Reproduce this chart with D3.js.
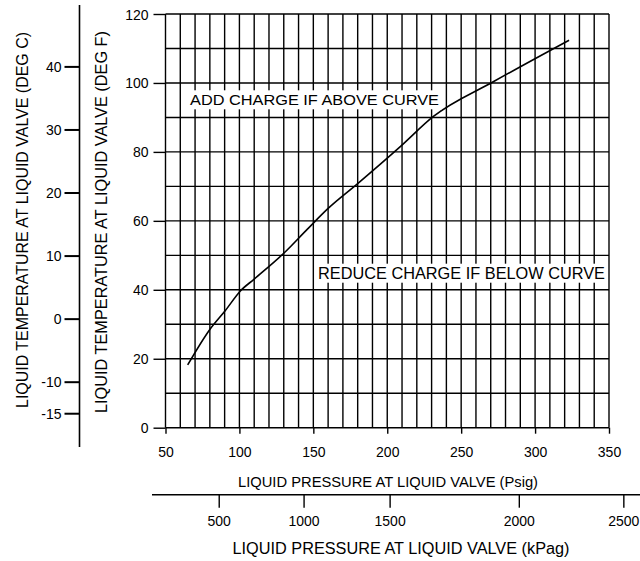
<!DOCTYPE html>
<html>
<head>
<meta charset="utf-8">
<script src="https://cdn.jsdelivr.net/npm/d3@7"></script>
<style>
  html, body { margin: 0; padding: 0; background: #fff; }
  svg { display: block; font-family: "Liberation Sans", Arial, Helvetica, sans-serif; }
</style>
</head>
<body>
<svg id="chart" width="640" height="561"></svg>
<script>
// ---- data ----
const curvePsig  = [65, 80, 90.5, 100.5, 110, 130, 146, 160, 180, 209, 231, 272, 323];
const curveTempF = [18.2, 28.5, 34.0, 39.6, 43.1, 50.6, 57.6, 63.6, 70.8, 81.6, 90.2, 100.4, 112.4];

const psigTicks  = [50, 100, 150, 200, 250, 300, 350];
const tempFTicks = [0, 20, 40, 60, 80, 100, 120];
const tempCTicks = [40, 30, 20, 10, 0, -10, -15];
const kpaTicks   = [500, 1000, 1500, 2000, 2500];
// where each kPa tick sits on the drawing, expressed in psig
const kpaAsPsig  = [86, 143.4, 201.6, 289, 359.7];
// where the two ends of the deg C scale sit on the drawing, expressed in deg F
const cCalibC = [-15, 40];
const cCalibF = [4.2, 104.8];

const labels = {
  yF: "LIQUID TEMPERATURE AT LIQUID VALVE (DEG F)",
  yC: "LIQUID TEMPERATURE AT LIQUID VALVE (DEG C)",
  xPsig: "LIQUID PRESSURE AT LIQUID VALVE (Psig)",
  xKpa: "LIQUID PRESSURE AT LIQUID VALVE (kPag)",
  above: "ADD CHARGE IF ABOVE CURVE",
  below: "REDUCE CHARGE IF BELOW CURVE"
};

// ---- scales ----
const svg = d3.select("#chart");
const x = d3.scaleLinear().domain([50, 350]).range([165.5, 609]);
const y = d3.scaleLinear().domain([0, 120]).range([427.7, 14]);
const yC = d3.scaleLinear().domain(cCalibC).range(cCalibF.map(y));
const xK = d3.scaleLinear().domain(kpaTicks).range(kpaAsPsig.map(x));

const ink = "#000";
const gridW = 1.4;

// ---- grid ----
const grid = svg.append("g").attr("stroke", ink).attr("stroke-width", gridW);
grid.selectAll("line.v").data(d3.range(50, 351, 10)).join("line")
  .attr("x1", d => x(d)).attr("x2", d => x(d))
  .attr("y1", y(120)).attr("y2", y(0));
grid.selectAll("line.h").data(d3.range(0, 121, 10)).join("line")
  .attr("y1", d => y(d)).attr("y2", d => y(d))
  .attr("x1", x(50)).attr("x2", x(350));

// ---- main axes ----
const xAxis = svg.append("g").attr("transform", `translate(0,${y(0)})`)
  .call(d3.axisBottom(x).tickValues(psigTicks).tickSize(6).tickPadding(13).tickSizeOuter(0).tickFormat(d => String(d)));
const yAxis = svg.append("g").attr("transform", `translate(${x(50)},0)`)
  .call(d3.axisLeft(y).tickValues(tempFTicks).tickSize(12).tickPadding(5).tickSizeOuter(0).tickFormat(d => String(d)));
[xAxis, yAxis].forEach(a => {
  a.select(".domain").remove();
  a.selectAll("line").attr("stroke", ink).attr("stroke-width", gridW);
  a.selectAll("text").attr("fill", ink).style("font-size", "14px").style("font-family", null);
});
yAxis.selectAll("text").attr("dy", "0.36em");

// ---- deg C axis ----
const cX = 79.5;
const cAxis = svg.append("g").attr("transform", `translate(${cX},0)`)
  .call(d3.axisLeft(yC).tickValues(tempCTicks).tickSize(15).tickPadding(3).tickSizeOuter(0).tickFormat(d => String(d)));
cAxis.select(".domain").remove();
cAxis.selectAll("line").attr("stroke", ink).attr("stroke-width", 2);
cAxis.selectAll("text").attr("fill", ink).style("font-size", "14px").style("font-family", null).attr("dy", "0.36em");
svg.append("line").attr("x1", cX).attr("x2", cX).attr("y1", 5).attr("y2", 447)
  .attr("stroke", ink).attr("stroke-width", 1.6);

// ---- kPa axis ----
const kY = 494.7;
const kAxis = svg.append("g").attr("transform", `translate(0,${kY})`)
  .call(d3.axisBottom(xK).tickValues(kpaTicks).tickSize(13).tickPadding(8).tickSizeOuter(0).tickFormat(d => String(d)));
kAxis.select(".domain").remove();
kAxis.selectAll("line").attr("stroke", ink).attr("stroke-width", 1.4);
kAxis.selectAll("text").attr("fill", ink).style("font-size", "14px").style("font-family", null);
svg.append("line").attr("x1", 152).attr("x2", 640).attr("y1", kY).attr("y2", kY)
  .attr("stroke", ink).attr("stroke-width", 1.4);

// ---- curve ----
const pts = curvePsig.map((p, i) => [p, curveTempF[i]]);
svg.append("path").datum(pts)
  .attr("fill", "none").attr("stroke", ink).attr("stroke-width", 1.6)
  .attr("stroke-linejoin", "round")
  .attr("d", d3.line().x(d => x(d[0])).y(d => y(d[1])).curve(d3.curveMonotoneX));

// ---- in-plot notes with white backgrounds ----
function note(text, x0, baseline, len, size) {
  const g = svg.append("g");
  const rect = g.append("rect").attr("fill", "#fff");
  const t = g.append("text").attr("x", x0).attr("y", baseline)
    .attr("fill", ink).style("font-size", size + "px")
    .attr("textLength", len).attr("lengthAdjust", "spacingAndGlyphs").text(text);
  const b = t.node().getBBox();
  rect.attr("x", b.x - 3).attr("y", b.y - 1).attr("width", b.width + 6).attr("height", b.height + 2);
}
note(labels.above, 190, 105.3, 249, 15.4);
note(labels.below, 318, 278.7, 287, 15.8);

// ---- axis titles ----
svg.append("text").attr("x", 388).attr("y", 487.3).attr("text-anchor", "middle")
  .attr("fill", ink).style("font-size", "14.5px")
  .attr("textLength", 300).attr("lengthAdjust", "spacingAndGlyphs").text(labels.xPsig);
svg.append("text").attr("x", 401).attr("y", 554.3).attr("text-anchor", "middle")
  .attr("fill", ink).style("font-size", "16px")
  .attr("textLength", 337).attr("lengthAdjust", "spacingAndGlyphs").text(labels.xKpa);
svg.append("text").attr("transform", "translate(106.5,222) rotate(-90)")
  .attr("text-anchor", "middle").attr("fill", ink).style("font-size", "16px")
  .attr("textLength", 382).attr("lengthAdjust", "spacingAndGlyphs").text(labels.yF);
svg.append("text").attr("transform", "translate(27.5,220) rotate(-90)")
  .attr("text-anchor", "middle").attr("fill", ink).style("font-size", "16px")
  .attr("textLength", 376).attr("lengthAdjust", "spacingAndGlyphs").text(labels.yC);
</script>
</body>
</html>
